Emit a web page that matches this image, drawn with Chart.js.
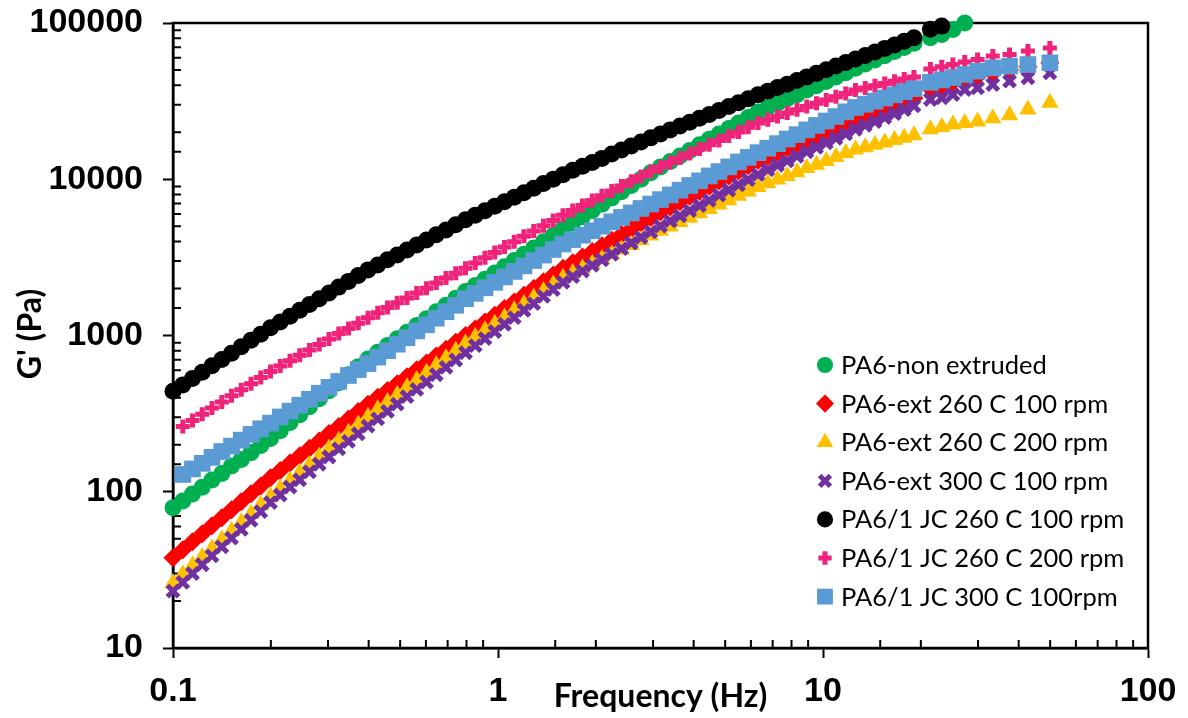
<!DOCTYPE html>
<html lang="en">
<head>
<meta charset="utf-8">
<title>G' vs Frequency</title>
<script src="https://cdn.jsdelivr.net/npm/chart.js@4"></script>
<style>
  html, body { margin: 0; padding: 0; background: #fff; }
  #wrap { width: 1188px; height: 718px; position: relative; }
</style>
</head>
<body>
<div id="wrap"><canvas id="chart"></canvas></div>
<script>
// frequency sweep (Hz), shared by all series
const freq = [
  0.1, 0.1072, 0.1148, 0.123, 0.1318, 0.1413, 0.1514, 0.1622, 0.1738, 0.1862,
  0.1995, 0.2138, 0.2291, 0.2455, 0.263, 0.2818, 0.302, 0.3236, 0.3467, 0.3715,
  0.3981, 0.4266, 0.4571, 0.4898, 0.5248, 0.5623, 0.6026, 0.6457, 0.6918, 0.7413,
  0.7943, 0.8511, 0.912, 0.9772, 1.047, 1.122, 1.202, 1.288, 1.38, 1.479,
  1.585, 1.698, 1.82, 1.95, 2.089, 2.239, 2.399, 2.57, 2.754, 2.951,
  3.162, 3.388, 3.631, 3.89, 4.169, 4.467, 4.786, 5.129, 5.495, 5.888,
  6.31, 6.761, 7.244, 7.762, 8.318, 8.913, 9.55, 10.23, 10.96, 11.75,
  12.59, 13.49, 14.45, 15.49, 16.6, 17.78, 19.05,
  21.4, 23.2, 25.1, 27.3, 29.9, 33.3, 37.5, 42.7, 49.9
];

// G' (Pa) per sample, null = no point
const pa6NonExtruded = [
  79, 87.3, 96.8, 107, 119, 131, 146, 161, 178, 198,
  219, 246, 277, 311, 350, 394, 443, 498, 560, 630,
  708, 782, 863, 953, 1050, 1160, 1280, 1420, 1560, 1730,
  1910, 2090, 2290, 2510, 2750, 3020, 3310, 3630, 3980, 4370,
  4790, 5250, 5750, 6310, 6920, 7590, 8320, 9120, 10000, 11000,
  12000, 13000, 14100, 15300, 16600, 18000, 19500, 21100, 22900, 24800,
  26900, 28700, 30600, 32700, 34800, 37200, 39600, 42300, 45100, 48100,
  51300, 54600, 57900, 61700, 65600, 69700, 74100,
  80400, 84300, 90800, 100000, null, null, null, null, null
];
const pa6Ext260_100 = [
  37.8, 42.5, 47.9, 53.8, 60.5, 68.2, 76.7, 86.3, 97.1, 109,
  123, 137, 153, 170, 190, 211, 236, 262, 292, 326,
  363, 402, 445, 492, 545, 603, 667, 738, 817, 904,
  1000, 1100, 1220, 1350, 1490, 1640, 1810, 2000, 2210, 2440,
  2690, 2920, 3180, 3450, 3750, 4070, 4430, 4810, 5220, 5680,
  6170, 6650, 7180, 7750, 8360, 9020, 9730, 10500, 11300, 12200,
  13200, 14000, 14900, 15900, 16900, 18000, 19100, 20400, 21700, 23100,
  24600, 25800, 27100, 28500, 30000, 31500, 33100,
  38000, 39800, 41700, 43700, 45700, 47900, 50100, 52500, 55600
];
const pa6Ext260_200 = [
  26.1, 29.6, 33.7, 38.3, 43.4, 49.4, 56.1, 63.7, 72.3, 82.2,
  93.3, 105, 118, 133, 149, 168, 189, 212, 239, 269,
  302, 337, 375, 418, 466, 519, 578, 644, 718, 800,
  891, 982, 1080, 1190, 1310, 1450, 1590, 1750, 1930, 2130,
  2340, 2510, 2690, 2880, 3090, 3310, 3550, 3800, 4070, 4370,
  4680, 4990, 5320, 5680, 6050, 6460, 6890, 7350, 7830, 8360,
  8910, 9420, 9950, 10500, 11100, 11800, 12400, 13100, 13900, 14700,
  15500, 16000, 16600, 17200, 17800, 18400, 19100,
  20900, 21600, 22400, 22900, 23400, 24600, 25700, 27900, 30900
];
const pa6Ext300_100 = [
  23.1, 26.3, 29.9, 34.1, 38.9, 44.4, 50.5, 57.5, 65.6, 74.6,
  85.1, 95.3, 107, 119, 134, 150, 167, 188, 210, 235,
  263, 293, 327, 364, 406, 452, 504, 561, 625, 697,
  776, 861, 955, 1060, 1180, 1300, 1450, 1600, 1780, 1970,
  2190, 2380, 2580, 2810, 3050, 3310, 3600, 3910, 4250, 4610,
  5010, 5410, 5830, 6300, 6790, 7330, 7910, 8530, 9200, 9930,
  10700, 11500, 12300, 13100, 14000, 15000, 16000, 17100, 18300, 19500,
  20900, 22100, 23400, 24800, 26300, 27900, 29500,
  32400, 33200, 34800, 37500, 38500, 40400, 42500, 44600, 48000
];
const pa6Jc260_100 = [
  440, 483, 530, 582, 640, 703, 771, 847, 931, 1020,
  1120, 1220, 1330, 1450, 1580, 1720, 1870, 2040, 2220, 2420,
  2630, 2830, 3050, 3280, 3530, 3800, 4090, 4410, 4740, 5110,
  5500, 5880, 6280, 6710, 7180, 7670, 8200, 8770, 9380, 10000,
  10700, 11400, 12100, 12800, 13600, 14500, 15400, 16300, 17300, 18400,
  19500, 20700, 21900, 23200, 24600, 26000, 27500, 29200, 30900, 32700,
  34700, 36600, 38600, 40600, 42900, 45200, 47600, 50200, 53000, 55900,
  58900, 62000, 65300, 68800, 72400, 76300, 80400,
  91200, 95500, null, null, null, null, null, null, null
];
const pa6Jc260_200 = [
  null, 262, 286, 313, 343, 375, 411, 450, 492, 538,
  589, 638, 690, 747, 809, 876, 948, 1030, 1110, 1200,
  1300, 1400, 1510, 1620, 1740, 1870, 2010, 2170, 2330, 2500,
  2690, 2910, 3150, 3400, 3680, 3980, 4310, 4660, 5040, 5450,
  5890, 6320, 6790, 7300, 7830, 8410, 9040, 9710, 10400, 11200,
  12000, 12800, 13700, 14600, 15600, 16600, 17700, 18900, 20100, 21500,
  22900, 24000, 25200, 26500, 27800, 29200, 30600, 32100, 33700, 35400,
  37200, 38400, 39600, 41000, 42400, 43800, 45200,
  50700, 52500, 54200, 56200, 58300, 61400, 62800, 66100, 69300
];
const pa6Jc300_100 = [
  null, 129, 140, 152, 166, 181, 196, 214, 233, 253,
  275, 301, 328, 358, 391, 427, 466, 508, 555, 605,
  661, 727, 800, 880, 968, 1070, 1170, 1290, 1420, 1560,
  1720, 1860, 2020, 2190, 2370, 2570, 2790, 3020, 3270, 3550,
  3850, 4110, 4390, 4680, 5000, 5340, 5700, 6090, 6500, 6940,
  7410, 7940, 8510, 9120, 9770, 10500, 11200, 12000, 12900, 13800,
  14800, 15800, 16900, 18100, 19300, 20700, 22100, 23600, 25200, 27000,
  28800, 30200, 31600, 33100, 34700, 36300, 38000,
  41700, 43200, 44700, 46800, 49200, 51600, 53000, 54200, 55600
];

const seriesLabels = [
  'PA6-non extruded',
  'PA6-ext 260 C 100 rpm',
  'PA6-ext 260 C 200 rpm',
  'PA6-ext 300 C 100 rpm',
  'PA6/1 JC 260 C 100 rpm',
  'PA6/1 JC 260 C 200 rpm',
  'PA6/1 JC 300 C 100rpm'
];
const seriesValues = [pa6NonExtruded, pa6Ext260_100, pa6Ext260_200, pa6Ext300_100,
                      pa6Jc260_100, pa6Jc260_200, pa6Jc300_100];

const xTicks = [0.1, 1, 10, 100];
const xTickLabels = ['0.1', '1', '10', '100'];
const yTicks = [10, 100, 1000, 10000, 100000];
const yTickLabels = ['10', '100', '1000', '10000', '100000'];

// marker look per series (Excel style)
const markers = [
  { color: '#00B050', style: 'circle',   radius: 8.5, border: 0 },
  { color: '#FF0000', style: 'rectRot',  radius: 9.5, border: 0 },
  { color: '#FFC000', style: 'triangle', radius: 10,  border: 0 },
  { color: '#7030A0', style: 'crossRot', radius: 8,   border: 5 },
  { color: '#000000', style: 'circle',   radius: 8.5, border: 0 },
  { color: '#F0237A', style: 'cross',    radius: 7,   border: 5 },
  { color: '#5B9BD5', style: 'rect',     radius: 11.8, border: 0 }
];

const isMajor = v => Math.abs(Math.log10(v) - Math.round(Math.log10(v))) < 1e-6;

function tickLabel(ticks, labels) {
  return function (value) {
    const i = ticks.findIndex(t => Math.abs(Math.log10(t) - Math.log10(value)) < 1e-6);
    return i >= 0 ? labels[i] : '';
  };
}

function points(vals) {
  const out = [];
  vals.forEach((v, i) => { if (v !== null) out.push({ x: freq[i], y: v }); });
  return out;
}

const datasets = seriesValues.map((vals, i) => ({
  label: seriesLabels[i],
  data: points(vals),
  order: seriesValues.length - i,   // later series on top, like Excel
  clip: false,
  pointStyle: markers[i].style,
  pointRadius: markers[i].radius,
  pointHoverRadius: markers[i].radius,
  pointBorderWidth: markers[i].border,
  pointHoverBorderWidth: markers[i].border,
  backgroundColor: markers[i].color,
  borderColor: markers[i].color
}));

const tickFont = { family: 'Liberation Sans', size: 34, weight: 'bold' };

// frame, inner minor ticks, axis titles and the boxed-in legend
const framePlugin = {
  id: 'frame',
  beforeDatasetsDraw(chart) {
    const { ctx, chartArea: a, scales: { x, y } } = chart;
    ctx.save();
    ctx.strokeStyle = '#000';
    ctx.lineWidth = 2.5;
    ctx.strokeRect(a.left, a.top, a.right - a.left, a.bottom - a.top);
    ctx.lineWidth = 2;
    ctx.beginPath();
    x.ticks.forEach(t => {
      if (isMajor(t.value)) return;
      const px = x.getPixelForValue(t.value);
      ctx.moveTo(px, a.bottom);
      ctx.lineTo(px, a.bottom - 8);
    });
    y.ticks.forEach(t => {
      if (isMajor(t.value)) return;
      const py = y.getPixelForValue(t.value);
      ctx.moveTo(a.left, py);
      ctx.lineTo(a.left + 8, py);
    });
    ctx.stroke();
    ctx.restore();
  },
  afterDraw(chart) {
    const { ctx, chartArea: a } = chart;
    ctx.save();
    ctx.fillStyle = '#000';
    ctx.font = 'bold 32px Lato';
    ctx.textAlign = 'center';
    ctx.textBaseline = 'alphabetic';
    ctx.fillText('Frequency (Hz)', (a.left + a.right) / 2, 707);
    ctx.save();
    ctx.translate(41, 334);
    ctx.rotate(-Math.PI / 2);
    ctx.fillText("G' (Pa)", 0, 0);
    ctx.restore();

    ctx.font = '25.5px Lato';
    ctx.textAlign = 'left';
    seriesLabels.forEach((lab, i) => {
      const yRow = 365 + i * 38.6;
      const m = markers[i];
      ctx.fillStyle = m.color;
      ctx.strokeStyle = m.color;
      ctx.lineWidth = m.border;
      Chart.helpers.drawPoint(ctx, { pointStyle: m.style, radius: m.radius * 0.95, borderWidth: m.border, rotation: 0 }, 825, yRow);
      ctx.fillStyle = '#000';
      ctx.fillText(lab, 841, yRow + 9);
    });
    ctx.restore();
  }
};

new Chart(document.getElementById('chart'), {
  type: 'scatter',
  data: { datasets },
  options: {
    responsive: true,
    maintainAspectRatio: false,
    animation: false,
    layout: { padding: { left: 0, right: 40, top: 23, bottom: 0 } },
    plugins: { legend: { display: false }, tooltip: { enabled: false } },
    scales: {
      x: {
        type: 'logarithmic',
        position: 'bottom',
        min: 0.1,
        max: 100,
        afterFit: s => { s.height = 70; s.paddingLeft = 0; s.paddingRight = 0; },
        border: { display: true, color: '#000', width: 2.5 },
        grid: {
          drawOnChartArea: false,
          drawTicks: true,
          tickLength: 10,
          tickWidth: 2,
          tickColor: c => (c.tick && isMajor(c.tick.value)) ? '#000' : 'rgba(0,0,0,0)'
        },
        ticks: {
          autoSkip: false,
          maxRotation: 0,
          padding: 13,
          color: '#000',
          font: tickFont,
          callback: tickLabel(xTicks, xTickLabels)
        }
      },
      y: {
        type: 'logarithmic',
        min: 10,
        max: 100000,
        afterFit: s => { s.width = 173; s.paddingTop = 0; s.paddingBottom = 0; },
        border: { display: true, color: '#000', width: 2.5 },
        grid: {
          drawOnChartArea: false,
          drawTicks: true,
          tickLength: 10,
          tickWidth: 2,
          tickColor: c => (c.tick && isMajor(c.tick.value)) ? '#000' : 'rgba(0,0,0,0)'
        },
        ticks: {
          autoSkip: false,
          padding: 20,
          color: '#000',
          font: tickFont,
          callback: tickLabel(yTicks, yTickLabels)
        }
      }
    }
  },
  plugins: [framePlugin]
});
</script>
</body>
</html>
